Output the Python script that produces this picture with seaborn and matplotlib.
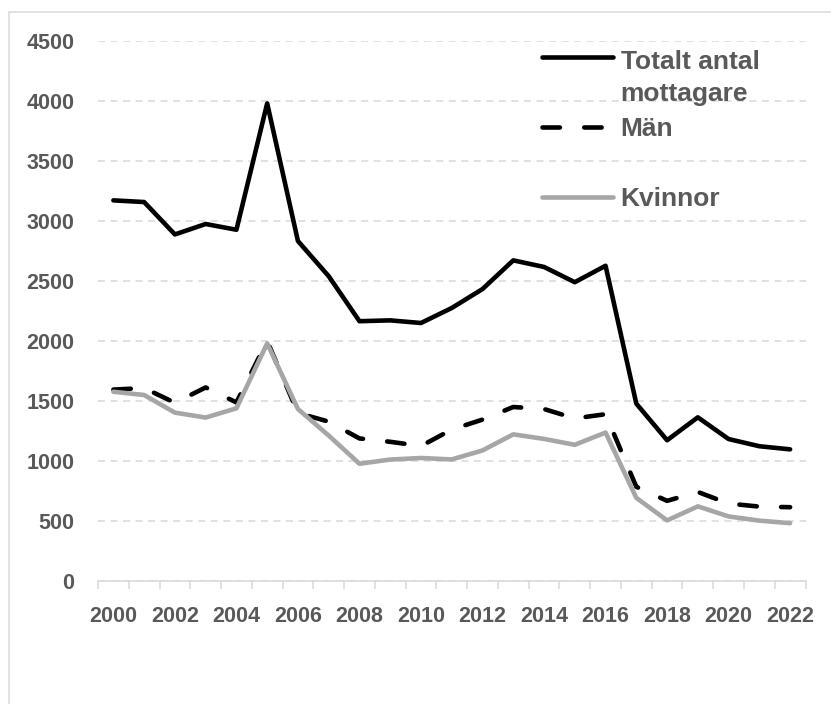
import numpy as np
import pandas as pd
import seaborn as sns
import matplotlib.pyplot as plt
from matplotlib.lines import Line2D
from matplotlib.patches import Rectangle
from matplotlib.ticker import FixedLocator

# Mottagare per år, totalt och uppdelat på kön
years = list(range(2000, 2023))
totalt = [3172, 3158, 2888, 2975, 2927, 3980, 2833, 2540, 2165, 2172, 2150, 2275,
          2433, 2672, 2617, 2490, 2627, 1478, 1173, 1364, 1183, 1123, 1097]
man = [1595, 1608, 1485, 1613, 1488, 2000, 1400, 1328, 1188, 1160, 1125, 1262,
       1345, 1450, 1433, 1355, 1390, 785, 668, 742, 645, 620, 615]
kvinnor = [1577, 1550, 1403, 1362, 1439, 1980, 1433, 1212, 977, 1012, 1025, 1013,
           1088, 1222, 1184, 1135, 1237, 693, 505, 622, 538, 503, 482]

series_names = ["Totalt antal\nmottagare", "Män", "Kvinnor"]
year_labels = [str(y) for y in years[::2]]
y_ticks = list(range(0, 4501, 500))

df = pd.DataFrame({
    "År": years * 3,
    "Antal": totalt + man + kvinnor,
    "Serie": [series_names[0]] * len(years) + [series_names[1]] * len(years)
             + [series_names[2]] * len(years),
})

sns.set_theme(style="white")
plt.rcParams["font.family"] = ["Liberation Sans", "DejaVu Sans"]
plt.rcParams["font.weight"] = "bold"

W, H = 831, 704
fig = plt.figure(figsize=(W / 100, H / 100), dpi=100)
ax = fig.add_axes([98 / W, 1 - 581 / H, 707.5 / W, 540 / H])

TEXT = "#595959"
GRID = "#d9d9d9"
colors = {series_names[0]: "#000000", series_names[1]: "#000000", series_names[2]: "#a6a6a6"}
dash_map = {series_names[0]: "", series_names[1]: (3.8, 5.3), series_names[2]: ""}
LW = 3.3

sns.lineplot(data=df, x="År", y="Antal", hue="Serie", style="Serie",
             hue_order=series_names, style_order=series_names,
             palette=colors, dashes=dash_map, linewidth=LW, legend=False,
             ax=ax, solid_capstyle="round", dash_capstyle="round",
             solid_joinstyle="round", dash_joinstyle="round")

ax.set_xlim(years[0] - 0.5, years[-1] + 0.5)
ax.set_ylim(0, 4500)
ax.set_xlabel("")
ax.set_ylabel("")

# y grid: dashed light grey lines
ax.set_yticks(y_ticks)
ax.yaxis.grid(True, color=GRID, linewidth=1.1, linestyle=(0, (4.6, 3.6)))
ax.xaxis.grid(False)
ax.set_axisbelow(True)

# x axis: labels every second year, tick marks between categories
ax.xaxis.set_major_locator(FixedLocator(years[::2]))
ax.set_xticklabels(year_labels)
ax.xaxis.set_minor_locator(FixedLocator([y - 0.5 for y in years] + [years[-1] + 0.5]))
ax.tick_params(axis="x", which="major", length=0, pad=18, labelsize=15.5,
               labelcolor=TEXT)
ax.tick_params(axis="x", which="minor", length=5.5, width=1.1, color=GRID,
               direction="out", bottom=True)
ax.tick_params(axis="y", length=0, pad=17, labelsize=15.5, labelcolor=TEXT)
for lab in ax.get_xticklabels() + ax.get_yticklabels():
    lab.set_fontweight("bold")

for side in ["top", "right", "left"]:
    ax.spines[side].set_visible(False)
ax.spines["bottom"].set_color(GRID)
ax.spines["bottom"].set_linewidth(1.1)

# legend drawn in the upper right corner
def px_to_ax(px, py):
    return (px - 98) / 707.5, (581 - py) / 540

LINE_STEP = 35.0
leg_rows = [(series_names[0], 56.7), (series_names[1], 127.0), (series_names[2], 196.7)]
for name, py in leg_rows:
    x0, yy = px_to_ax(541.7, py)
    x1, _ = px_to_ax(613.3, py)
    ls = "-" if dash_map[name] == "" else (0, dash_map[name])
    ax.add_line(Line2D([x0, x1], [yy, yy], transform=ax.transAxes, color=colors[name],
                       linewidth=LW, linestyle=ls, solid_capstyle="round",
                       dash_capstyle="round", clip_on=False))
    n_lines = name.count("\n")
    tx, ty = px_to_ax(620.7, py + 9.5 + LINE_STEP * n_lines)
    ax.text(tx, ty, name, transform=ax.transAxes, fontsize=19, fontweight="bold",
            color=TEXT, va="baseline", ha="left", linespacing=1.45)

# chart frame
fig.add_artist(Rectangle((9 / W, -0.2), 1.5, 1.2 - 12 / H, transform=fig.transFigure,
                         fill=False, edgecolor=GRID, linewidth=1.1, clip_on=False))

fig.savefig("out.png", dpi=100, facecolor="white")
